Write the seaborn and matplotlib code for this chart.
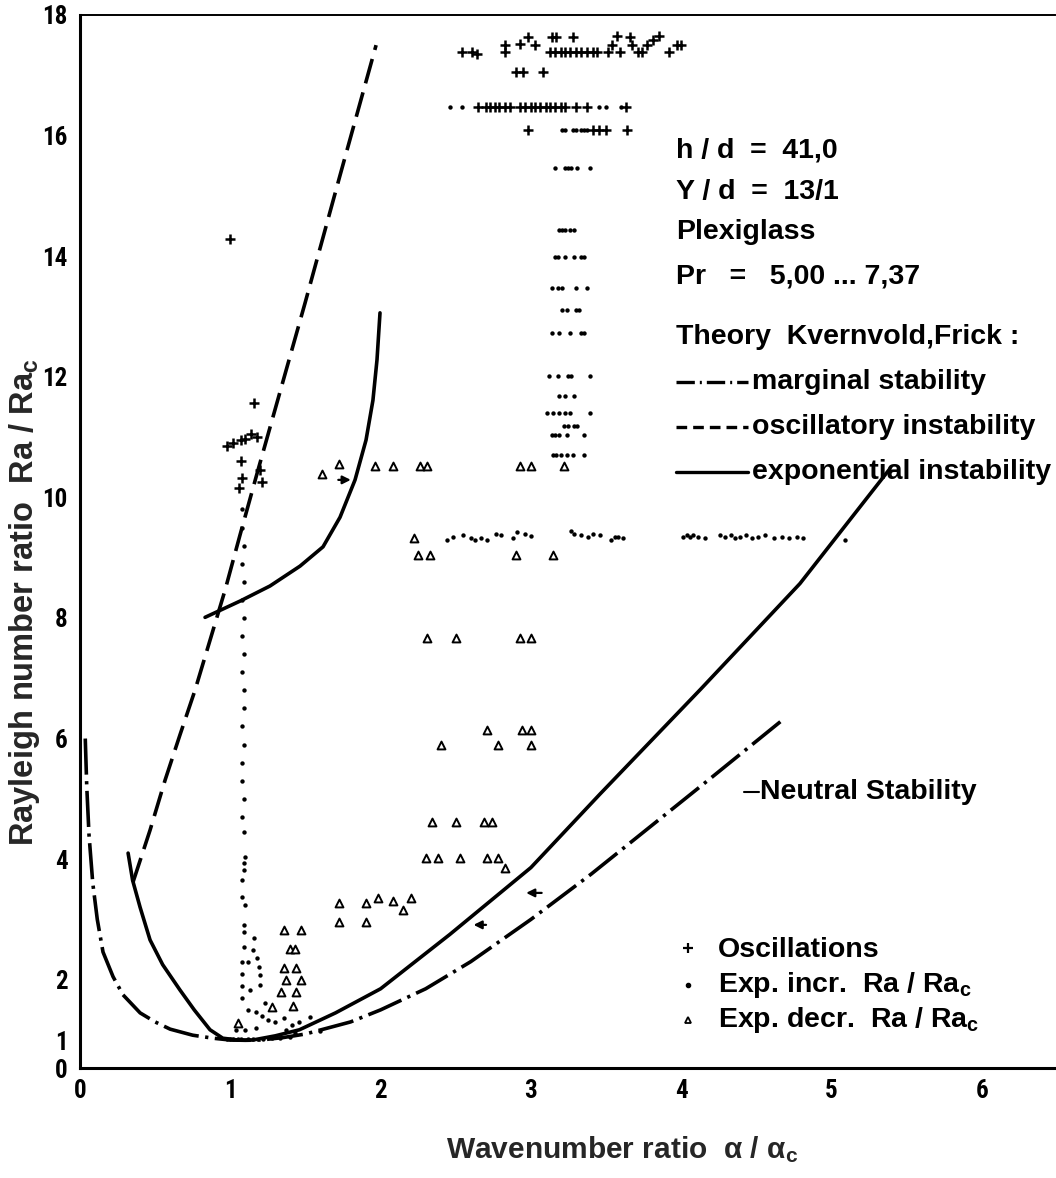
import numpy as np
import pandas as pd
import matplotlib
matplotlib.use("Agg")
import matplotlib.pyplot as plt
import seaborn as sns
from matplotlib import font_manager as fm

# ---------------- data ----------------
# theory curves
marg_x = [0.035, 0.045, 0.06, 0.085, 0.115, 0.153, 0.22, 0.286, 0.4, 0.5, 0.6, 0.75, 0.885, 1.0, 1.1, 1.2, 1.35,
          1.5, 1.8, 2.0, 2.3, 2.6, 3.0, 3.4, 3.8, 4.2, 4.67]
marg_y = [6.0, 5.2, 4.4, 3.6, 3.0, 2.46, 2.05, 1.75, 1.45, 1.3, 1.18, 1.08, 1.03, 1.0, 0.99, 1.0, 1.04,
          1.1, 1.3, 1.5, 1.85, 2.3, 3.0, 3.75, 4.55, 5.35, 6.3]

expo_x = [0.32, 0.35, 0.4, 0.466, 0.55, 0.665, 0.76, 0.865, 0.95, 1.05, 1.15, 1.3, 1.46, 1.7, 2.0, 2.46, 3.0,
          3.46, 4.13, 4.79, 5.39]
expo_y = [4.1, 3.65, 3.2, 2.66, 2.25, 1.83, 1.5, 1.17, 1.03, 1.0, 1.0, 1.07, 1.17, 1.45, 1.85, 2.75, 3.86,
          5.08, 6.82, 8.57, 10.48]

expo2_x = [0.832, 1.065, 1.264, 1.464, 1.617, 1.73, 1.83, 1.903, 1.949, 1.976, 1.996]
expo2_y = [8.01, 8.28, 8.53, 8.86, 9.18, 9.67, 10.29, 10.95, 11.61, 12.28, 13.06]

osc_x_th = [0.353, 0.466, 0.566, 0.665, 0.765, 0.865, 0.965, 1.064, 1.184, 1.297, 1.497, 1.73, 1.97]
osc_y_th = [3.62, 4.48, 5.31, 6.06, 6.80, 7.63, 8.46, 9.37, 10.45, 11.45, 13.22, 15.34, 17.50]

# measured: oscillations (+)
osc_x = [2.54, 2.61, 2.64, 2.83, 2.83, 2.93, 2.98, 3.03, 3.14, 3.17, 3.13, 3.16, 3.2, 3.23, 3.26, 3.28, 3.3,
         3.33, 3.37, 3.41, 3.44, 3.51, 3.54, 3.57, 3.59, 3.66, 3.67, 3.71, 3.74, 3.77, 3.81, 3.85, 3.92, 3.97,
         4.0,
         2.9, 2.95, 3.08,
         2.65, 2.7, 2.73, 2.76, 2.79, 2.83, 2.86, 2.93, 2.96, 3.0, 3.03, 3.06, 3.1, 3.13, 3.16, 3.2, 3.23, 3.3,
         3.37, 3.63,
         2.98, 3.41, 3.45, 3.5, 3.64,
         1.0, 1.16,
         0.98, 1.02, 1.07, 1.1, 1.14, 1.18, 1.07, 1.08, 1.06, 1.21, 1.2]
osc_y = [17.38, 17.38, 17.36, 17.38, 17.5, 17.52, 17.63, 17.5, 17.63, 17.63, 17.38, 17.38, 17.38, 17.38,
         17.38, 17.63, 17.38, 17.38, 17.38, 17.38, 17.38, 17.38, 17.5, 17.65, 17.38, 17.63, 17.5, 17.38, 17.38,
         17.5, 17.58, 17.66, 17.38, 17.5, 17.5,
         17.05, 17.05, 17.05,
         16.47, 16.47, 16.47, 16.47, 16.47, 16.47, 16.47, 16.47, 16.47, 16.47, 16.47, 16.47, 16.47, 16.47,
         16.47, 16.47, 16.47, 16.47, 16.47, 16.47,
         16.09, 16.09, 16.09, 16.09, 16.09,
         14.28, 11.57,
         10.85, 10.9, 10.95, 10.97, 11.05, 11.0, 10.6, 10.32, 10.15, 10.25, 10.45]

# measured: exponential, increasing Ra/Ra_c (small dots)
inc_x = [2.46, 2.54, 3.45, 3.5, 3.6,
         3.21, 3.23, 3.28, 3.3, 3.33, 3.35, 3.37,
         3.16, 3.23, 3.25, 3.27, 3.31, 3.39,
         3.19, 3.21, 3.23, 3.26, 3.29,
         3.16, 3.18, 3.23, 3.29, 3.33, 3.35,
         3.14, 3.18, 3.21, 3.3, 3.37,
         3.21, 3.24, 3.3, 3.32,
         3.14, 3.19, 3.26, 3.33, 3.35,
         3.12, 3.18, 3.25, 3.27, 3.39,
         3.19, 3.23, 3.29,
         3.11, 3.15, 3.19, 3.23, 3.26, 3.39,
         3.22, 3.25, 3.29, 3.31,
         3.14, 3.16, 3.19, 3.24, 3.35,
         3.15, 3.17, 3.2, 3.24, 3.28, 3.35,
         # row at ~9.3
         2.44, 2.48, 2.55, 2.6, 2.63, 2.67, 2.71, 2.77, 2.8, 2.88, 2.91, 2.96, 3.0, 3.27, 3.29, 3.33, 3.38, 3.41,
         3.46, 3.53, 3.56, 3.58, 3.61, 4.01, 4.04, 4.06, 4.08, 4.11, 4.16, 4.26, 4.29, 4.33, 4.36, 4.39, 4.43,
         4.47, 4.51, 4.56, 4.62, 4.67, 4.72, 4.77, 4.81, 5.09,
         # vertical column near the critical wavenumber
         1.08, 1.08, 1.09, 1.08, 1.09, 1.08, 1.09, 1.08, 1.09, 1.08, 1.09, 1.09, 1.08, 1.09, 1.08, 1.08, 1.09,
         1.08, 1.09, 1.1, 1.09, 1.09, 1.08, 1.08,
         1.1, 1.09, 1.09, 1.09, 1.08, 1.08, 1.08, 1.08, 1.16, 1.15, 1.18, 1.19, 1.2, 1.2, 1.12, 1.13, 1.12,
         1.17, 1.21, 1.23, 1.25, 1.3, 1.36, 1.41, 1.46, 1.53, 1.1, 1.04, 1.17, 1.37, 1.43, 1.6,
         0.98, 1.0, 1.02, 1.05, 1.07, 1.12, 1.15, 1.22, 1.28, 1.33, 1.4]
inc_y = [16.47, 16.47, 16.47, 16.47, 16.47,
         16.09, 16.09, 16.09, 16.09, 16.09, 16.09, 16.09,
         15.46, 15.46, 15.46, 15.46, 15.46, 15.46,
         14.43, 14.43, 14.43, 14.43, 14.43,
         13.98, 13.98, 13.98, 13.98, 13.98, 13.98,
         13.48, 13.48, 13.48, 13.48, 13.48,
         13.11, 13.11, 13.11, 13.11,
         12.73, 12.73, 12.73, 12.73, 12.73,
         12.01, 12.01, 12.01, 12.01, 12.01,
         11.68, 11.68, 11.68,
         11.40, 11.40, 11.40, 11.40, 11.40, 11.40,
         11.18, 11.18, 11.18, 11.18,
         11.03, 11.03, 11.03, 11.03, 11.03,
         10.70, 10.70, 10.70, 10.70, 10.70, 10.70,
         9.30, 9.35, 9.38, 9.33, 9.3, 9.33, 9.3, 9.4, 9.38, 9.32, 9.42, 9.4, 9.36, 9.45, 9.4, 9.38, 9.35, 9.4,
         9.38, 9.3, 9.35, 9.35, 9.33, 9.35, 9.37, 9.35, 9.38, 9.35, 9.33, 9.37, 9.35, 9.38, 9.33, 9.35, 9.37,
         9.33, 9.35, 9.37, 9.33, 9.35, 9.33, 9.35, 9.33, 9.3,
         9.8, 9.5, 9.2, 8.9, 8.6, 8.3, 8.0, 7.7, 7.4, 7.1, 6.8, 6.5, 6.2, 5.9, 5.6, 5.3, 5.0, 4.7, 4.45, 4.03,
         3.93, 3.82, 3.65, 3.37,
         3.24, 2.91, 2.79, 2.55, 2.3, 2.1, 1.9, 1.7, 2.69, 2.49, 2.36, 2.21, 2.08, 1.91, 2.29, 1.83, 1.5,
         1.46, 1.4, 1.61, 1.33, 1.3, 1.36, 1.25, 1.3, 1.38, 1.17, 1.17, 1.2, 1.17, 1.12, 1.15,
         1.02, 1.02, 1.01, 1.01, 1.01, 1.01, 1.02, 1.02, 1.03, 1.04, 1.05]

# measured: exponential, decreasing Ra/Ra_c (open triangles)
dec_x = [1.61, 1.72, 1.96, 2.08, 2.26, 2.31, 2.93, 3.0, 3.22,
         2.22, 2.25, 2.33, 2.9, 3.15,
         2.31, 2.5, 2.93, 3.0,
         2.4, 2.71, 2.78, 2.94, 3.0, 3.0,
         2.34, 2.5, 2.69, 2.74, 2.3, 2.38, 2.53, 2.71, 2.78, 2.83,
         1.72, 1.9, 1.98, 1.72, 1.9, 2.08, 2.15, 2.2,
         1.36, 1.47, 1.4, 1.43, 1.36, 1.44, 1.37, 1.47, 1.34, 1.44, 1.42, 1.28, 1.05]
dec_y = [10.38, 10.55, 10.52, 10.52, 10.52, 10.52, 10.52, 10.52, 10.52,
         9.32, 9.04, 9.04, 9.04, 9.04,
         7.66, 7.66, 7.66, 7.66,
         5.89, 6.14, 5.89, 6.14, 6.14, 5.89,
         4.62, 4.62, 4.62, 4.62, 4.02, 4.02, 4.02, 4.02, 4.02, 3.85,
         3.27, 3.27, 3.35, 2.96, 2.96, 3.3, 3.15, 3.35,
         2.82, 2.82, 2.51, 2.51, 2.19, 2.19, 1.99, 1.99, 1.8, 1.8, 1.56, 1.55, 1.28]

xticks = [0, 1, 2, 3, 4, 5, 6]
yticks = [0, 1, 2, 4, 6, 8, 10, 12, 14, 16, 18]

# ---------------- style ----------------
sns.set_theme(style="white")
avail = {f.name for f in fm.fontManager.ttflist}
fam = next((f for f in ["Liberation Sans", "Arial", "DejaVu Sans"] if f in avail), "DejaVu Sans")
narrow = next((f for f in ["Liberation Sans Narrow", "Roboto Condensed", "DejaVu Sans Condensed", fam]
               if f in avail), fam)
plt.rcParams["font.family"] = [fam, "DejaVu Sans"]
plt.rcParams["font.weight"] = "bold"
plt.rcParams["mathtext.default"] = "regular"

fig = plt.figure(figsize=(10.56, 11.78), dpi=100)
W, H = 1056, 1178
ax = fig.add_axes([80 / W, 110 / H, (1055 - 80) / W, (1068 - 15) / H])


def fwd(y):
    y = np.asarray(y, float)
    return np.where(y >= 1, y, 1 - (1 - y) * 0.464)


def inv(z):
    z = np.asarray(z, float)
    return np.where(z >= 1, z, 1 - (1 - z) / 0.464)


ax.set_yscale("function", functions=(fwd, inv))

lw = 2.6
dd = (10, 1.8, 0.9, 1.8)
dsh = (7, 2.6)

sns.lineplot(x=marg_x, y=marg_y, ax=ax, sort=False, estimator=None, color="black", lw=lw,
             linestyle=(0, dd))
sns.lineplot(x=expo_x, y=expo_y, ax=ax, sort=False, estimator=None, color="black", lw=lw)
sns.lineplot(x=expo2_x, y=expo2_y, ax=ax, sort=False, estimator=None, color="black", lw=lw)
sns.lineplot(x=osc_x_th, y=osc_y_th, ax=ax, sort=False, estimator=None, color="black", lw=lw,
             linestyle=(0, dsh))

sns.scatterplot(x=osc_x, y=osc_y, ax=ax, marker="+", s=60, color="black", linewidth=1.8, zorder=4)
sns.scatterplot(x=inc_x, y=inc_y, ax=ax, marker="o", s=10, color="black", edgecolor="black", linewidth=0,
                zorder=4)
sns.scatterplot(x=dec_x, y=dec_y, ax=ax, marker="^", s=32, facecolor="white", edgecolor="black",
                linewidth=1.4, zorder=4)

ax.set_xlim(0, 6.487)
ax.set_ylim(0, 18)
ax.set_xticks(xticks)
ax.set_yticks(yticks)
tick_font = dict(fontsize=18, fontweight="bold", family=[narrow, "DejaVu Sans"])
ax.set_xticklabels([str(t) for t in xticks], **tick_font)
ax.set_yticklabels([str(t) for t in yticks], **tick_font)
ax.tick_params(axis="x", direction="in", length=6, width=1.2, pad=8, colors="black")
ax.tick_params(axis="y", direction="out", length=5, width=1.2, pad=4, colors="black")
for s in ["left", "bottom", "top"]:
    ax.spines[s].set_visible(True)
    ax.spines[s].set_color("black")
ax.spines["left"].set_linewidth(2.2)
ax.spines["bottom"].set_linewidth(2.2)
ax.spines["top"].set_linewidth(1.4)
ax.spines["right"].set_visible(False)
ax.set_xlabel("")
ax.set_ylabel("")


def px(xp, yp):
    """figure-pixel position to figure fraction"""
    return xp / W, 1 - yp / H


fig.text(*px(622, 1150), r"Wavenumber ratio  α / α$_c$", fontsize=21.5, fontweight="bold",
         ha="center", va="center")
fig.text(*px(25, 602), r"Rayleigh number ratio  Ra / Ra$_c$", fontsize=23.5, fontweight="bold",
         ha="center", va="center", rotation=90)

txt = dict(fontsize=20.5, fontweight="bold", va="center", ha="left", color="black")
fig.text(*px(676, 150), "h / d  =  41,0", **txt)
fig.text(*px(676, 192), "Y / d  =  13/1", **txt)
fig.text(*px(676, 232), "Plexiglass", **txt)
fig.text(*px(676, 277), "Pr   =   5,00 ... 7,37", **txt)
fig.text(*px(676, 337), "Theory  Kvernvold,Frick :", **txt)
fig.text(*px(752, 382), "marginal stability", **txt)
fig.text(*px(752, 427), "oscillatory instability", **txt)
fig.text(*px(752, 472), "exponential instability", **txt)
fig.text(*px(760, 792), "Neutral Stability", **txt)

# legend line samples
for yp, ls in [(382, (0, (5.5, 1.5, 0.6, 1.5))), (427, (0, (3.2, 1.8))), (472, "-")]:
    (x0, y0), (x1, _) = px(676, yp), px(748, yp)
    fig.add_artist(plt.Line2D([x0, x1], [y0, y0], color="black", lw=2.4, linestyle=ls))
(x0, y0), (x1, _) = px(744, 792), px(759, 792)
fig.add_artist(plt.Line2D([x0, x1], [y0, y0], color="black", lw=1.5))

# symbol legend
fig.text(*px(718, 950), "Oscillations", **txt)
fig.text(*px(718, 985), r"Exp. incr.  Ra / Ra$_c$", **txt)
fig.text(*px(718, 1020), r"Exp. decr.  Ra / Ra$_c$", **txt)
fig.add_artist(plt.Line2D([px(688, 0)[0]], [px(0, 948)[1]], marker="+", ms=7, mew=1.6, color="black"))
fig.add_artist(plt.Line2D([px(688, 0)[0]], [px(0, 985)[1]], marker="o", ms=3, color="black"))
fig.add_artist(plt.Line2D([px(688, 0)[0]], [px(0, 1020)[1]], marker="^", ms=5, mfc="white", mec="black",
                          mew=1.3))

# small arrows on the chart
for (xa, ya, xb) in [(1.70, 10.29, 1.82), (3.09, 3.44, 2.95), (2.72, 2.91, 2.6)]:
    ax.annotate("", xy=(xb, ya), xytext=(xa, ya),
                arrowprops=dict(arrowstyle="-|>", color="black", lw=1.6, mutation_scale=12))

fig.savefig("out.png", dpi=100)
